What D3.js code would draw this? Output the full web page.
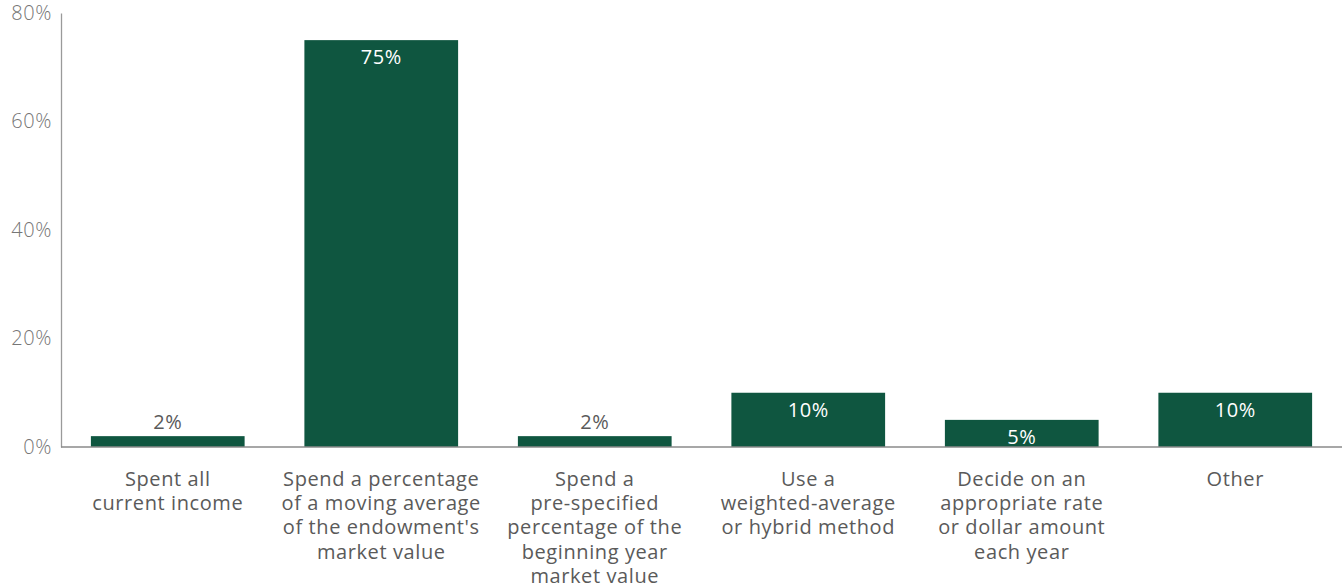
<!DOCTYPE html>
<html>
<head>
<meta charset="utf-8">
<script src="https://cdn.jsdelivr.net/npm/d3@7"></script>
<style>
  body { margin: 0; background: #fff; }
  text { font-family: "Open Sans", Lato, sans-serif; }
</style>
</head>
<body>
<div id="chart"></div>
<script>
// chart data
var categories = [
  ["Spent all", "current income"],
  ["Spend a percentage", "of a moving average", "of the endowment's", "market value"],
  ["Spend a", "pre-specified", "percentage of the", "beginning year", "market value"],
  ["Use a", "weighted-average", "or hybrid method"],
  ["Decide on an", "appropriate rate", "or dollar amount", "each year"],
  ["Other"]
]
var values = [2, 75, 2, 10, 5, 10]
var yTicks = [0, 20, 40, 60, 80]

var outerWidth = 1342,
  outerHeight = 586,
  margin = {top: 13, right: 0, bottom: 139, left: 61},
  width = outerWidth - margin.left - margin.right,
  height = outerHeight - margin.top - margin.bottom;

var svg = d3.select("#chart").append("svg")
  .attr("width", outerWidth)
  .attr("height", outerHeight)

var g = svg.append("g")
  .attr("transform", "translate(" + margin.left + "," + margin.top + ")");

var xScale = d3.scaleBand()
  .domain(d3.range(values.length))
  .range([0, width])
  .paddingInner(0.28)
  .paddingOuter(0.14);

var yScale = d3.scaleLinear()
  .domain([0, 80])
  .range([height, 0]);

// y axis: line plus labels, no tick marks
var yAxis = d3.axisLeft(yScale)
  .tickValues(yTicks)
  .tickSize(0)
  .tickPadding(9)
  .tickFormat(function(d) { return d + "%"; });

var yG = g.append("g").call(yAxis);
yG.select(".domain").attr("stroke", "#9a9a9a").attr("stroke-width", 1.3);
yG.selectAll("text")
  .attr("fill", "#767676")
  .style("font-size", "20px")
  .style("font-weight", "300")
  .style("letter-spacing", "0.6px")
  .style("font-family", "'Open Sans', Lato, sans-serif");

// bars
g.selectAll("rect.bar")
  .data(values)
  .enter().append("rect")
  .attr("class", "bar")
  .attr("x", function(d, i) { return xScale(i); })
  .attr("y", function(d) { return yScale(d); })
  .attr("width", xScale.bandwidth())
  .attr("height", function(d) { return height - yScale(d); })
  .attr("fill", "#0f5640");

// baseline
g.append("line")
  .attr("x1", 0).attr("x2", width)
  .attr("y1", height).attr("y2", height)
  .attr("stroke", "#8a8a8a")
  .attr("stroke-width", 1.3);

// value labels: small bars above, others inside
g.selectAll("text.value")
  .data(values)
  .enter().append("text")
  .attr("class", "value")
  .attr("x", function(d, i) { return xScale(i) + xScale.bandwidth() / 2; })
  .attr("y", function(d) {
    return d < 4 ? yScale(d) - 7 : yScale(d) + 24;
  })
  .attr("text-anchor", "middle")
  .attr("fill", function(d) { return d < 4 ? "#5a5a5a" : "#ffffff"; })
  .style("font-size", "20px")
  .style("letter-spacing", "0.6px")
  .text(function(d) { return d + "%"; });

// category labels
var cat = g.selectAll("text.cat")
  .data(categories)
  .enter().append("text")
  .attr("class", "cat")
  .attr("text-anchor", "middle")
  .attr("fill", "#5a5a5a")
  .style("font-size", "20px")
  .style("letter-spacing", "0.6px")
  .attr("transform", function(d, i) {
    return "translate(" + (xScale(i) + xScale.bandwidth() / 2) + "," + (height + 39) + ")";
  });

cat.selectAll("tspan")
  .data(function(d) { return d; })
  .enter().append("tspan")
  .attr("x", 0)
  .attr("y", function(d, i) { return i * 24.2; })
  .text(function(d) { return d; });
</script>
</body>
</html>
